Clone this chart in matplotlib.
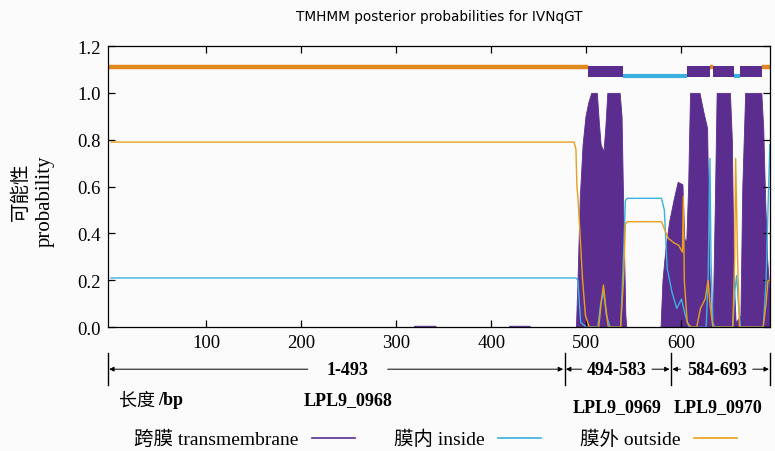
"""
TMHMM posterior probabilities for IVNqGT.
Transmembrane / inside / outside probability along the sequence.
"""

import matplotlib
matplotlib.use("Agg")
import matplotlib.pyplot as plt
from matplotlib.lines import Line2D
import matplotlib.transforms as mtransforms

plt.rcParams['font.family'] = ['Liberation Serif', 'Noto Sans CJK SC']

# posterior probability keypoints (position, probability)
tm_prob = [(0, 0), (318, 0), (319, 0.006), (341, 0.006), (342, 0), (418, 0),
           (419, 0.006), (440, 0.006), (441, 0), (489, 0), (491, 0.25),
           (493, 0.55), (496, 0.78), (499, 0.9), (502, 0.96), (505, 1.0),
           (511, 1.0), (513, 0.88), (515, 0.78), (518, 0.75), (520, 0.86),
           (522, 1.0), (535, 1.0), (537, 0.9), (539, 0.45), (541, 0.05),
           (542, 0), (578, 0), (580, 0.2), (583, 0.33), (587, 0.45),
           (592, 0.55), (596, 0.62), (601, 0.61), (603, 0.38), (605, 0.36),
           (607, 0.6), (609, 1.0), (619, 1.0), (623, 0.92), (627, 0.85),
           (629, 0.3), (631, 0.02), (633, 0.05), (635, 0.5), (637, 1.0),
           (651, 1.0), (653, 0.8), (655, 0.2), (657, 0.02), (662, 0.05),
           (664, 0.6), (667, 1.0), (684, 1.0), (686, 0.85), (688, 0.55),
           (690, 0.3), (692, 0.18), (693, 0.15)]

inside_prob = [(0, 0.21), (489, 0.21), (491, 0.2), (494, 0.02), (500, 0),
               (512, 0), (515, 0.1), (518, 0.15), (521, 0.05), (525, 0),
               (536, 0), (539, 0.3), (541, 0.54), (543, 0.55), (579, 0.55),
               (582, 0.5), (585, 0.25), (590, 0.15), (595, 0.08), (600, 0.12),
               (604, 0.05), (608, 0), (626, 0), (628, 0.2), (630, 0.72),
               (631, 0.3), (633, 0.02), (635, 0), (654, 0), (656, 0.15),
               (658, 0.22), (660, 0.1), (662, 0), (686, 0), (689, 0.2),
               (691, 0.5), (693, 0.78)]

outside_prob = [(0, 0.79), (487, 0.79), (489, 0.76), (490, 0.6), (491, 0.56),
                (493, 0.42), (496, 0.2), (499, 0.05), (503, 0), (513, 0),
                (516, 0.12), (518, 0.18), (520, 0.1), (523, 0), (536, 0),
                (539, 0.2), (541, 0.44), (543, 0.45), (579, 0.45),
                (582, 0.42), (586, 0.38), (592, 0.36), (597, 0.35),
                (601, 0.32), (602, 0.56), (603, 0.2), (606, 0.02), (610, 0),
                (616, 0), (620, 0.08), (625, 0.12), (628, 0.2), (630, 0.1),
                (633, 0), (654, 0), (656, 0.3), (657, 0.72), (659, 0.3),
                (661, 0), (686, 0), (689, 0.1), (691, 0.2), (693, 0.2)]

# predicted topology shown along the top (start, end)
topo_outside = [(-4, 502), (630, 633), (685, 694)]
topo_inside = [(538, 606), (655, 662)]
topo_tm = [(502, 538), (606, 630), (633, 655), (662, 685)]

# gene regions under the axis
region_bounds = [-3.5, 477, 589, 693.5]
region_labels = ["1-493", "494-583", "584-693"]
region_label_x = [249, 532, 637]
region_gap = [42, 37, 38]
gene_names = ["LPL9_0968", "LPL9_0969", "LPL9_0970"]
gene_x = [249, 532, 638]

PURPLE = "#5b2d8e"
BLUE = "#3bb0df"
GOLD = "#e8a01c"
ORANGE = "#e0891f"


def main():
    fig = plt.figure(figsize=(7.75, 4.52), dpi=100, facecolor="#fbfbfb")
    ax = fig.add_axes([0.139, 0.274, 0.855, 0.622])
    ax.set_facecolor("#fbfbfb")

    tx, ty = zip(*tm_prob)
    ax.fill_between(tx, 0, ty, color=PURPLE, lw=0.6, edgecolor=PURPLE)
    ix, iy = zip(*inside_prob)
    ax.plot(ix, iy, color=BLUE, lw=1.0)
    ox, oy = zip(*outside_prob)
    ax.plot(ox, oy, color=GOLD, lw=1.0)

    # topology bar
    for s, e in topo_outside:
        ax.hlines(1.112, s, e, color=ORANGE, lw=3.2)
    for s, e in topo_inside:
        ax.hlines(1.071, s, e, color=BLUE, lw=3.0)
    ax.broken_barh([(s, e - s) for s, e in topo_tm], (1.066, 0.05),
                   facecolor=PURPLE)

    ax.set_xlim(-3.5, 693.5)
    ax.set_ylim(0, 1.2)
    ax.set_xticks([100, 200, 300, 400, 500, 600])
    ax.set_yticks([0, 0.2, 0.4, 0.6, 0.8, 1.0, 1.2])
    ax.set_yticklabels([f"{v:.1f}" for v in ax.get_yticks()])
    ax.tick_params(direction="in", top=True, right=True, length=5,
                   width=0.9, labelsize=13.5, pad=5)
    for sp in ax.spines.values():
        sp.set_linewidth(0.9)

    fig.text(0.567, 0.963, "TMHMM posterior probabilities for IVNqGT",
             family="DejaVu Sans", fontsize=9.8, ha="center", va="center")
    fig.text(0.027, 0.575, "可能性", rotation=90, fontsize=14,
             ha="center", va="center")
    fig.text(0.058, 0.555, "probability", rotation=90, fontsize=15,
             ha="center", va="center")

    # region arrows below the axis
    trans = mtransforms.blended_transform_factory(ax.transData, fig.transFigure)
    yr = 0.181
    for b in region_bounds:
        ax.add_line(Line2D([b, b], [yr - 0.035, yr + 0.035], color="black",
                           lw=1.0, transform=trans, clip_on=False))
    for i, lab in enumerate(region_labels):
        lo, hi = region_bounds[i], region_bounds[i + 1]
        cx, g = region_label_x[i], region_gap[i]
        for start, end in [(cx - g, lo), (cx + g, hi)]:
            ax.annotate("", xy=(end, yr), xytext=(start, yr),
                        xycoords=trans, textcoords=trans,
                        arrowprops=dict(arrowstyle="-|>", lw=0.7,
                                        color="black", mutation_scale=7,
                                        shrinkA=0, shrinkB=1))
        ax.text(cx, yr, lab, transform=trans, ha="center", va="center",
                fontsize=13, fontweight="bold")

    ax.text(27, 0.113, "长度", transform=trans, ha="center",
            va="center", fontsize=13)
    ax.text(63, 0.113, "/bp", transform=trans, ha="center",
            va="center", fontsize=13, fontweight="bold")
    ax.text(gene_x[0], 0.113, gene_names[0], transform=trans, ha="center",
            va="center", fontsize=13, fontweight="bold")
    for gx, name in zip(gene_x[1:], gene_names[1:]):
        ax.text(gx, 0.099, name, transform=trans, ha="center",
                va="center", fontsize=13, fontweight="bold")

    handles = [Line2D([], [], color=PURPLE, lw=1.2),
               Line2D([], [], color=BLUE, lw=1.2),
               Line2D([], [], color=GOLD, lw=1.2)]
    labels = ["跨膜 transmembrane", "膜内 inside", "膜外 outside"]
    fig.legend(handles, labels, loc="center", bbox_to_anchor=(0.562, 0.026),
               ncol=3, frameon=False, markerfirst=False, handlelength=2.2,
               handletextpad=0.7, columnspacing=2.0, fontsize=14)

    fig.savefig("out.png", dpi=100, facecolor=fig.get_facecolor())


if __name__ == '__main__':
    main()
